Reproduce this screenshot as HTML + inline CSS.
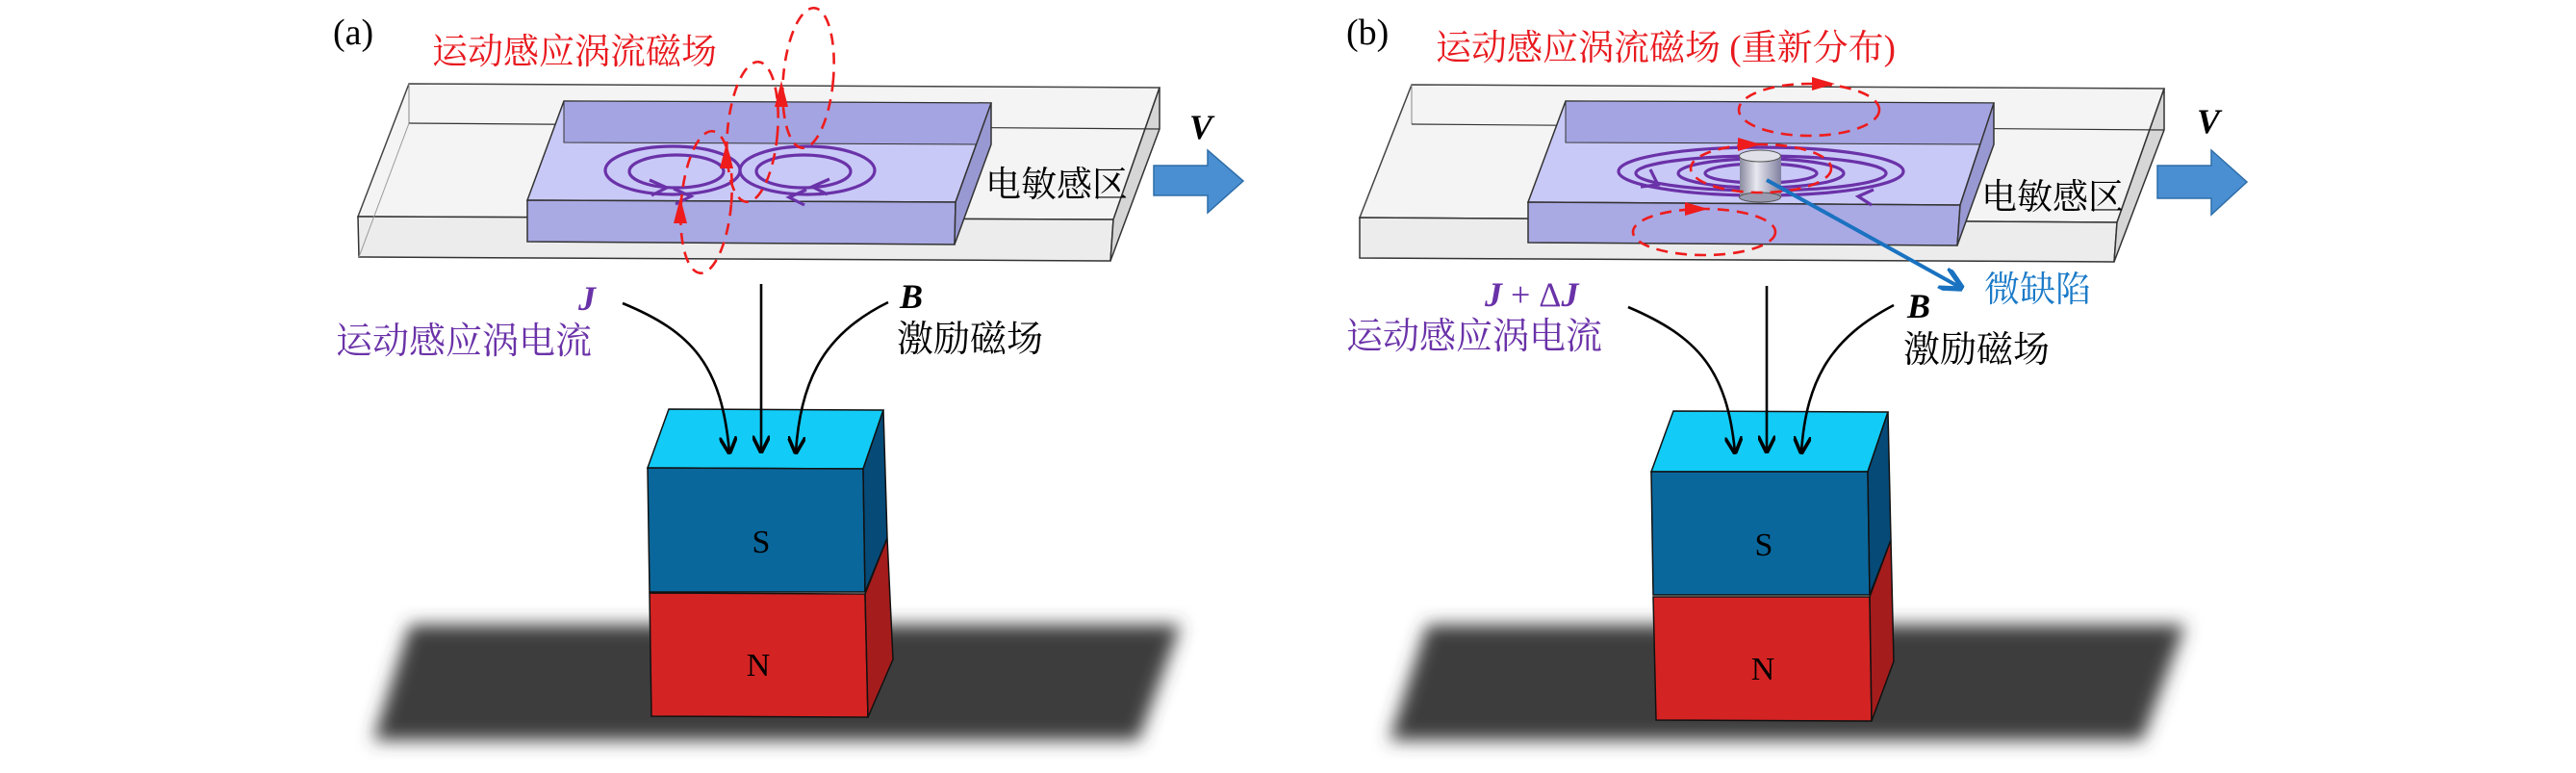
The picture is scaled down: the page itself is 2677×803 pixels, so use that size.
<!DOCTYPE html>
<html><head><meta charset="utf-8"><style>
html,body{margin:0;padding:0;background:#fff;}
svg{display:block;}
text{font-family:"Liberation Serif","Noto Serif CJK SC",serif;}
.cjk{font-family:"Liberation Serif","Noto Serif CJK SC","Noto Sans CJK SC",serif;}
</style></head><body>
<svg width="2677" height="803" viewBox="0 0 2677 803" xmlns="http://www.w3.org/2000/svg">
<defs>
<filter id="blur" x="-10%" y="-20%" width="120%" height="140%"><feGaussianBlur stdDeviation="9"/></filter>
<marker id="ak" viewBox="0 0 10 10" refX="9" refY="5" markerWidth="7" markerHeight="7" orient="auto"><path d="M0,0 L10,5 L0,10" fill="none" stroke="#000" stroke-width="2"/></marker>
<marker id="ab" viewBox="0 0 10 10" refX="9" refY="5" markerWidth="6" markerHeight="6" orient="auto"><path d="M0,0 L10,5 L0,10" fill="none" stroke="#1a72c0" stroke-width="2.2"/></marker>
<linearGradient id="cyl" x1="0" x2="1"><stop offset="0" stop-color="#8a8aa0"/><stop offset="0.4" stop-color="#e8e8f0"/><stop offset="1" stop-color="#8080a0"/></linearGradient>
</defs>

<!-- ============ PANEL A ============ -->
<polygon points="426,649 1227,649 1183,769 388,769" fill="#3d3d3d" filter="url(#blur)"/>
<text x="346" y="46" font-size="38">(a)</text>
<text x="449" y="66" font-size="37" fill="#e8191e" class="cjk">运动感应涡流磁场</text>

<polygon points="425,87 1205,91 1157,228 372,225" fill="#f4f4f4" stroke="#444" stroke-width="1.5"/>
<polygon points="372,225 1157,228 1154,271 373,267" fill="#ececec" stroke="#333" stroke-width="1.5"/>
<polygon points="1205,91 1205,134 1154,271 1157,228" fill="#d6d6d6" stroke="#333" stroke-width="1.5"/>
<line x1="425" y1="87" x2="425" y2="128" stroke="#888" stroke-width="1"/>
<line x1="425" y1="128" x2="1205" y2="134" stroke="#333" stroke-width="1.2"/>
<line x1="425" y1="128" x2="373" y2="267" stroke="#999" stroke-width="1"/>
<polygon points="586,105 1030,107 993,210 548,208" fill="#c9c9f7" stroke="#333" stroke-width="1.5"/>
<polygon points="586,105 1030,107 1030,150 586,148" fill="#a4a4e2" stroke="#333" stroke-width="1"/>
<polygon points="548,208 993,210 992,254 548,251" fill="#a9a9e4" stroke="#333" stroke-width="1.5"/>
<polygon points="1030,107 1030,150 992,254 993,210" fill="#9898d2" stroke="#333" stroke-width="1.5"/>
<g fill="none" stroke="#6a32a8" stroke-width="3.2">
<ellipse cx="699" cy="177" rx="70" ry="25"/>
<ellipse cx="703" cy="178" rx="49" ry="17"/>
<ellipse cx="839" cy="177" rx="70" ry="25"/>
<ellipse cx="835" cy="178" rx="49" ry="17"/>
<path d="M675,187 l18,8 l-16,8 M700,196 l18,8 l-16,8" />
<path d="M862,186 l-18,8 l16,8 M838,197 l-18,8 l16,8" />
</g>
<g fill="none" stroke="#ee1c1c" stroke-width="2.6" stroke-dasharray="12,8">
<ellipse cx="734" cy="210" rx="26" ry="74" transform="rotate(5 734 210)"/>
<ellipse cx="782" cy="137" rx="26" ry="73" transform="rotate(5 782 137)"/>
<ellipse cx="840" cy="81" rx="26" ry="73" transform="rotate(5 840 81)"/>
</g>
<g fill="#ee1c1c">
<polygon points="707,205 700,232 714,232"/>
<polygon points="755,148 748,175 762,175"/>
<polygon points="812,84 805,111 819,111"/>
</g>
<polygon points="1199,172 1255,172 1255,156 1292,188 1255,221 1255,203 1199,203" fill="#4a8fd2" stroke="#2e6ea8" stroke-width="1.5"/>
<text x="1236" y="144" font-size="36" font-style="italic" font-weight="bold">V</text>
<text x="1024" y="204" font-size="37" class="cjk">电敏感区</text>
<text x="601" y="322" font-size="36" font-style="italic" font-weight="bold" fill="#6a32a8">J</text>
<text x="349" y="367" font-size="38" fill="#6a32a8" class="cjk">运动感应涡电流</text>
<text x="935" y="320" font-size="36" font-style="italic" font-weight="bold">B</text>
<text x="932" y="365" font-size="38" class="cjk">激励磁场</text>
<polygon points="695,425 918,426 897,487 673,486" fill="#12cbf6" stroke="#111" stroke-width="1.5"/>
<polygon points="673,486 897,487 899,615 675,615" fill="#0a679b" stroke="#111" stroke-width="1.5"/>
<polygon points="918,426 922,559 899,615 897,487" fill="#064a78" stroke="#111" stroke-width="1.5"/>
<polygon points="675,616 899,617 902,745 677,744" fill="#d42323" stroke="#111" stroke-width="1.5"/>
<polygon points="922,559 928,685 902,745 899,617" fill="#a51c1c" stroke="#111" stroke-width="1.5"/>
<text x="791" y="574" font-size="34" text-anchor="middle">S</text>
<text x="788" y="702" font-size="34" text-anchor="middle">N</text>
<g fill="none" stroke="#000" stroke-width="2.6" marker-end="url(#ak)">
<line x1="791" y1="295" x2="791" y2="469"/>
<path d="M647,315 C720,345 750,380 758,470"/>
<path d="M923,314 C860,345 832,390 827,470"/>
</g>

<!-- ============ PANEL B ============ -->
<polygon points="1483,649 2271,649 2226,769 1444,769" fill="#3d3d3d" filter="url(#blur)"/>
<text x="1399" y="46" font-size="38">(b)</text>
<text x="1492" y="62" font-size="37" fill="#e8191e" class="cjk">运动感应涡流磁场 (重新分布)</text>

<polygon points="1467,88 2249,92 2200,231 1413,226" fill="#f4f4f4" stroke="#444" stroke-width="1.5"/>
<polygon points="1413,226 2200,231 2197,272 1413,268" fill="#ececec" stroke="#333" stroke-width="1.5"/>
<polygon points="2249,92 2249,135 2197,272 2200,231" fill="#d6d6d6" stroke="#333" stroke-width="1.5"/>
<line x1="1467" y1="88" x2="1467" y2="129" stroke="#888" stroke-width="1"/>
<line x1="1467" y1="129" x2="2249" y2="135" stroke="#333" stroke-width="1.2"/>
<polygon points="1627,105 2072,107 2037,213 1588,210" fill="#c9c9f7" stroke="#333" stroke-width="1.5"/>
<polygon points="1627,105 2072,107 2072,150 1627,148" fill="#a4a4e2" stroke="#333" stroke-width="1"/>
<polygon points="1588,210 2037,213 2034,255 1588,252" fill="#a9a9e4" stroke="#333" stroke-width="1.5"/>
<polygon points="2072,107 2072,150 2034,255 2037,213" fill="#9898d2" stroke="#333" stroke-width="1.5"/>
<g fill="none" stroke="#ee1c1c" stroke-width="2.6" stroke-dasharray="12,8">
<ellipse cx="1880" cy="114" rx="73" ry="27"/>
<ellipse cx="1771" cy="241" rx="74" ry="24"/>
</g>
<g fill="none" stroke="#6a32a8" stroke-width="3.2">
<ellipse cx="1830" cy="178" rx="148" ry="25"/>
<ellipse cx="1830" cy="180" rx="130" ry="18"/>
<ellipse cx="1830" cy="180" rx="86" ry="15"/>
<ellipse cx="1830" cy="180" rx="58" ry="10"/>
<path d="M1715,176 l8,16 l-18,2" />
<path d="M1947,197 l-16,7 l14,9" />
</g>
<rect x="1808" y="162" width="43" height="43" fill="url(#cyl)"/>
<ellipse cx="1829" cy="205" rx="21.5" ry="5" fill="#9a9ab0" stroke="#555" stroke-width="1"/>
<ellipse cx="1829" cy="162" rx="21.5" ry="6" fill="#e0e0e8" stroke="#555" stroke-width="1"/>
<ellipse cx="1830" cy="175" rx="73" ry="25" fill="none" stroke="#ee1c1c" stroke-width="2.6" stroke-dasharray="12,8"/>
<g fill="#ee1c1c">
<polygon points="1907,87 1883,80 1883,94"/>
<polygon points="1830,150 1806,143 1806,157"/>
<polygon points="1775,217 1751,210 1751,224"/>
</g>
<line x1="1836" y1="187" x2="2038" y2="299" stroke="#1a72c0" stroke-width="4" marker-end="url(#ab)"/>
<text x="2062" y="313" font-size="37" fill="#1a7ac8" class="cjk">微缺陷</text>
<polygon points="2242,172 2298,172 2298,156 2335,189 2298,223 2298,206 2242,206" fill="#4a8fd2" stroke="#2e6ea8" stroke-width="1.5"/>
<text x="2283" y="138" font-size="36" font-style="italic" font-weight="bold">V</text>
<text x="2059" y="217" font-size="37" class="cjk">电敏感区</text>
<text x="1543" y="318" font-size="36" font-weight="bold" fill="#6a32a8"><tspan font-style="italic">J</tspan><tspan font-weight="normal"> + Δ</tspan><tspan font-style="italic">J</tspan></text>
<text x="1399" y="362" font-size="38" fill="#6a32a8" class="cjk">运动感应涡电流</text>
<text x="1982" y="330" font-size="36" font-style="italic" font-weight="bold">B</text>
<text x="1978" y="376" font-size="38" class="cjk">激励磁场</text>
<polygon points="1739,427 1962,428 1941,490 1716,490" fill="#12cbf6" stroke="#111" stroke-width="1.5"/>
<polygon points="1716,490 1941,490 1943,618 1718,618" fill="#0a679b" stroke="#111" stroke-width="1.5"/>
<polygon points="1962,428 1965,561 1943,618 1941,490" fill="#064a78" stroke="#111" stroke-width="1.5"/>
<polygon points="1718,620 1943,620 1945,749 1721,748" fill="#d42323" stroke="#111" stroke-width="1.5"/>
<polygon points="1965,561 1968,687 1945,749 1943,620" fill="#a51c1c" stroke="#111" stroke-width="1.5"/>
<text x="1833" y="577" font-size="34" text-anchor="middle">S</text>
<text x="1832" y="706" font-size="34" text-anchor="middle">N</text>
<g fill="none" stroke="#000" stroke-width="2.6" marker-end="url(#ak)">
<line x1="1836" y1="297" x2="1836" y2="469"/>
<path d="M1692,319 C1765,350 1795,385 1803,470"/>
<path d="M1968,317 C1905,350 1877,392 1872,470"/>
</g>
</svg>
</body></html>
